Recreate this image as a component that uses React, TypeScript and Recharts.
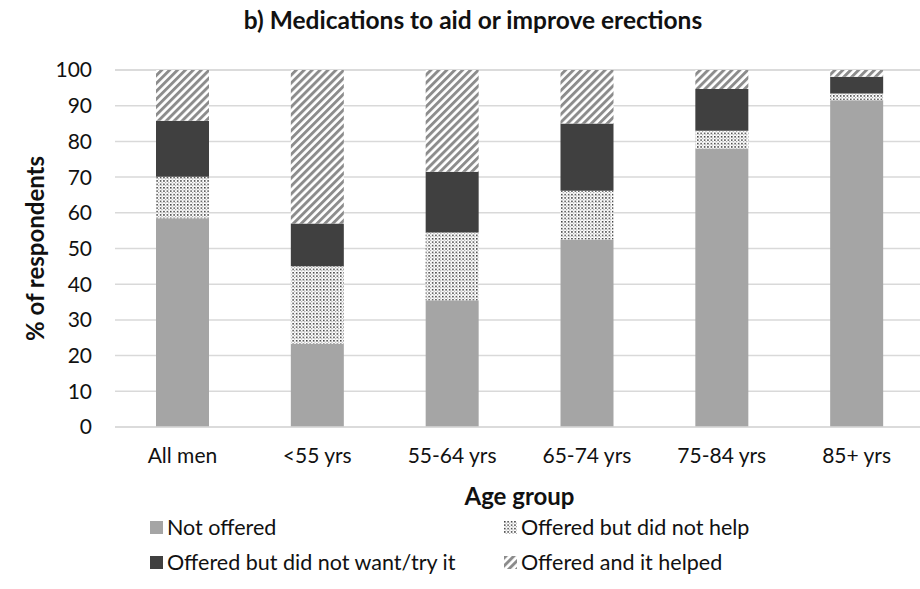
import { BarChart, Bar, CartesianGrid, XAxis, YAxis, Legend } from 'recharts'

const groups = ['All men', '<55 yrs', '55-64 yrs', '65-74 yrs', '75-84 yrs', '85+ yrs']
const notOffered = [58.5, 23.3, 35.5, 52.5, 78.0, 91.5]
const didNotHelp = [11.6, 21.7, 19.0, 13.7, 5.0, 1.9]
const didNotWant = [15.7, 12.0, 17.0, 18.8, 11.7, 4.7]
const helped = [14.2, 43.0, 28.5, 15.0, 5.3, 1.9]
const yTicks = [0, 10, 20, 30, 40, 50, 60, 70, 80, 90, 100]

const data = groups.map((group, i) => ({
  group,
  notOffered: notOffered[i],
  didNotHelp: didNotHelp[i],
  didNotWant: didNotWant[i],
  helped: helped[i],
}))

const FONT = 'Lato, sans-serif'

const series = [
  { key: 'notOffered', name: 'Not offered', fill: '#a5a5a5' },
  { key: 'didNotHelp', name: 'Offered but did not help', fill: 'url(#dots)' },
  { key: 'didNotWant', name: 'Offered but did not want/try it', fill: '#404040' },
  { key: 'helped', name: 'Offered and it helped', fill: 'url(#hatch)' },
]

// legend is a 2x2 grid: row 1 = not offered, did not help; row 2 = did not want, helped
function LegendBox() {
  return (
    <div style={{ position: 'relative', width: 920, height: 76, fontFamily: FONT, fontSize: 21.5, color: '#111' }}>
      {series.map((s, i) => {
        const col = i % 2
        const row = Math.floor(i / 2)
        return (
          <div
            key={s.key}
            style={{
              position: 'absolute',
              left: col === 0 ? 150 : 504,
              top: row * 35,
              height: 30,
              display: 'flex',
              alignItems: 'center',
              whiteSpace: 'nowrap',
            }}
          >
            <svg width={13} height={13} style={{ marginRight: 4 }}>
              <rect width={13} height={13} fill={s.fill} />
            </svg>
            {s.name}
          </div>
        )
      })}
    </div>
  )
}

export default function App() {
  return (
    <div style={{ width: 920, height: 589, overflow: 'hidden', background: '#fff', position: 'relative' }}>
      <style>{`body{margin:0}`}</style>
      <div
        style={{
          position: 'absolute',
          top: 5,
          left: 0,
          width: 946,
          textAlign: 'center',
          fontFamily: FONT,
          fontWeight: 700,
          fontSize: 24.5,
          color: '#111',
        }}
      >
        b) Medications to aid or improve erections
      </div>
      <BarChart
        width={930}
        height={589}
        data={data}
        margin={{ top: 70, right: 6, bottom: 72, left: 0 }}
        barSize={53}
      >
        <defs>
          <pattern id="dots" width={3.4} height={3.4} patternUnits="userSpaceOnUse">
            <rect width={3.4} height={3.4} fill="#fff" />
            <rect x={0} y={0} width={1.5} height={1.5} fill="#3a3a3a" />
            <rect x={1.7} y={1.7} width={1.1} height={1.1} fill="#9a9a9a" />
          </pattern>
          <pattern id="hatch" width={5.6} height={5.6} patternUnits="userSpaceOnUse" patternTransform="rotate(45)">
            <rect width={5.6} height={5.6} fill="#fff" />
            <rect width={2.9} height={5.6} fill="#8c8c8c" />
          </pattern>
        </defs>
        <CartesianGrid vertical={false} stroke="#d9d9d9" strokeWidth={1.5} />
        <XAxis
          dataKey="group"
          height={90}
          tickLine={false}
          tickSize={0}
          tickMargin={21}
          axisLine={{ stroke: '#d9d9d9', strokeWidth: 1.5 }}
          tick={{ fontFamily: FONT, fontSize: 21, fill: '#111' }}
          interval={0}
          label={{
            content: ({ viewBox }: any) => (
              <text
                x={viewBox.x + viewBox.width / 2}
                y={viewBox.y + 78}
                textAnchor="middle"
                fontFamily={FONT}
                fontSize={24}
                fontWeight={700}
                fill="#111"
              >
                Age group
              </text>
            ),
          }}
        />
        <YAxis
          width={115}
          domain={[0, 100]}
          ticks={yTicks}
          axisLine={false}
          tickLine={false}
          tickSize={0}
          tickMargin={23}
          tick={{ fontFamily: FONT, fontSize: 21, fill: '#111' }}
          label={{
            content: ({ viewBox }: any) => {
              const cx = viewBox.x + 34
              const cy = viewBox.y + viewBox.height / 2
              return (
                <text
                  x={cx}
                  y={cy}
                  transform={`rotate(-90, ${cx}, ${cy})`}
                  textAnchor="middle"
                  dominantBaseline="central"
                  fontFamily={FONT}
                  fontSize={24}
                  fontWeight={700}
                  fill="#111"
                >
                  % of respondents
                </text>
              )
            },
          }}
        />
        <Legend
          layout="horizontal"
          verticalAlign="middle"
          align="center"
          wrapperStyle={{ top: 512, left: 0, width: 920 }}
          content={() => <LegendBox />}
        />
        {series.map((s) => (
          <Bar key={s.key} dataKey={s.key} name={s.name} stackId="a" fill={s.fill} isAnimationActive={false} />
        ))}
      </BarChart>
    </div>
  )
}
